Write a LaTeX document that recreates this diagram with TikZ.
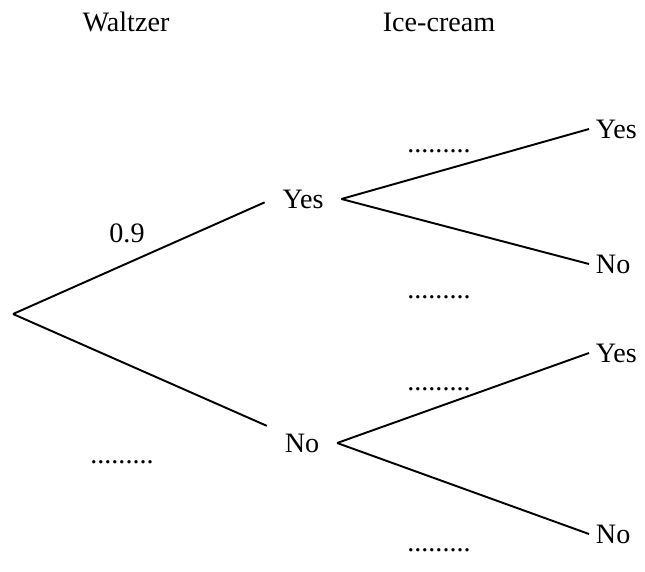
\documentclass[tikz,border=0pt]{standalone}
\usepackage{fontspec}
\setmainfont{Liberation Serif}
\usepackage{tikz}
\usetikzlibrary{positioning}

\begin{document}
\begin{tikzpicture}[x=0.02cm, y=-0.02cm, line width=1.1pt,
    every node/.style={font=\fontsize{16}{19}\selectfont},
    branch/.style={inner xsep=0.34cm, inner ysep=0.32cm},
    leaf/.style={anchor=west, inner xsep=0.12cm, inner ysep=0pt}]

    %% Background
    \draw[draw=none] (0,0) rectangle (645,571);

    % Headings
    \node (waltzer) at (126,22) {Waltzer};
    \node (icecream) at (439,22) {Ice-cream};

    % Outcomes
    \coordinate (root) at (13,314);
    \node[branch] (yes) at (303,199) {Yes};
    \node[branch] (no) at (302,443) {No};

    \node[leaf] (yesyes) at (589,129) {Yes};
    \node[leaf] (yesno) at (589,264) {No};
    \node[leaf] (noyes) at (589,353) {Yes};
    \node[leaf] (nono) at (589,534) {No};

    % Branches
    \draw (root) -- (yes.185);
    \draw (root) -- (no.154);

    \draw (yes.east) -- (yesyes.west);
    \draw (yes.east) -- (yesno.west);
    \draw (no.east) -- (noyes.west);
    \draw (no.east) -- (nono.west);

    % Probabilities
    \node (pyes) at (127,233) {0.9};
    \node (pno) at (122,462) {.........};
    \node (pyy) at (439,151) {.........};
    \node (pyn) at (439,297) {.........};
    \node (pny) at (439,389) {.........};
    \node (pnn) at (439,550) {.........};

\end{tikzpicture}
\end{document}
